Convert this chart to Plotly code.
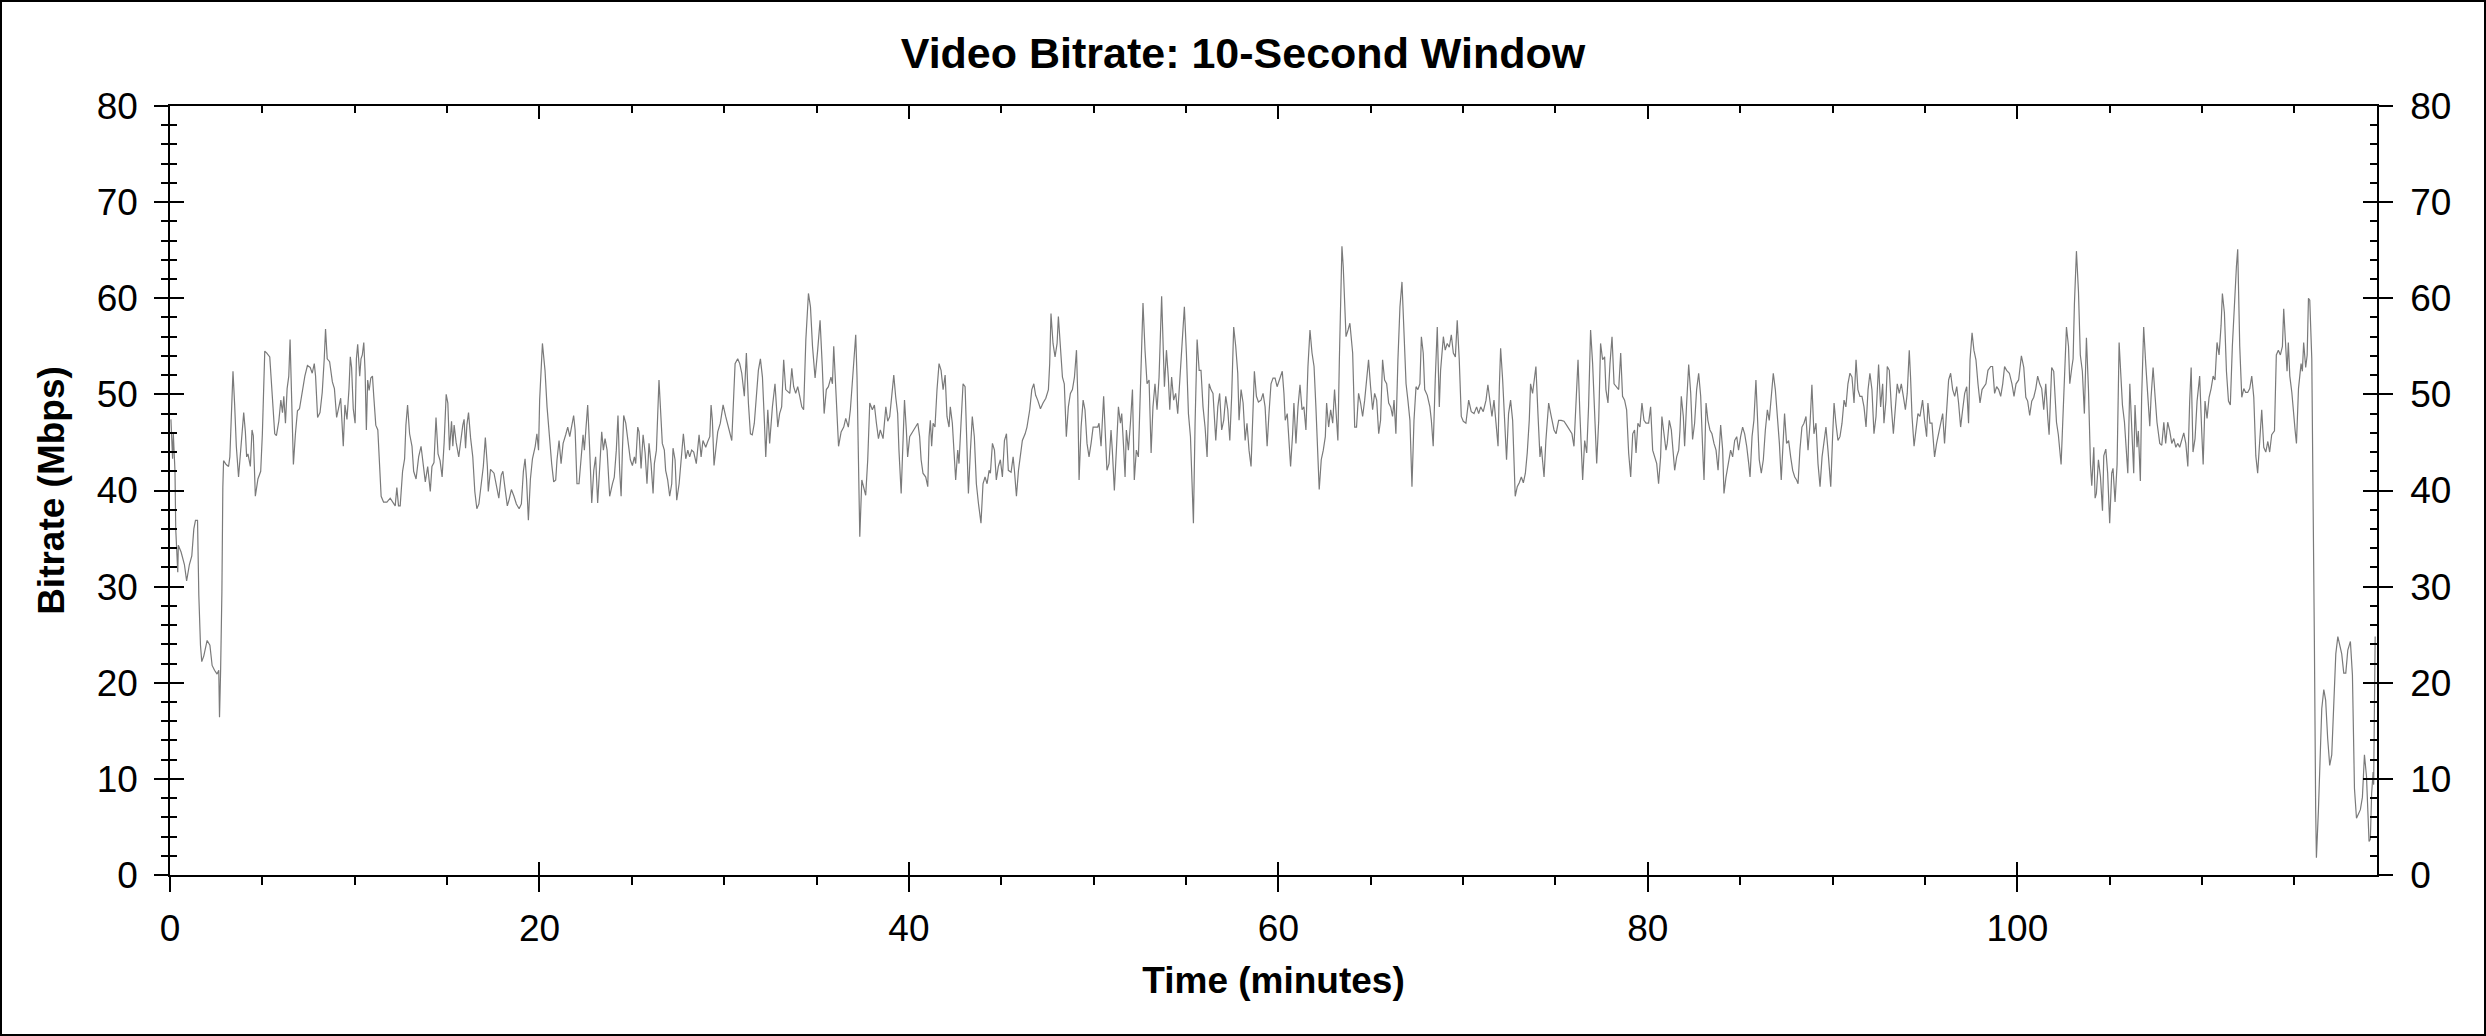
import plotly.graph_objects as go

# --- Data: time in minutes, 10-second window bitrate in Mbps ---
time_min = [
    0.05, 0.14, 0.18, 0.27, 0.31, 0.36, 0.42, 0.45, 0.60, 0.78, 0.90, 1.05, 1.18, 1.29, 1.38, 1.49,
    1.56, 1.65, 1.72, 1.83, 2.01, 2.16, 2.28, 2.41, 2.55, 2.64, 2.68, 2.74, 2.81, 2.86, 2.90, 3.04,
    3.17, 3.24, 3.32, 3.41, 3.50, 3.59, 3.71, 3.86, 3.99, 4.08, 4.15, 4.22, 4.35, 4.44, 4.51, 4.62,
    4.76, 4.91, 5.00, 5.13, 5.24, 5.40, 5.49, 5.58, 5.67, 5.76, 5.89, 6.00, 6.09, 6.16, 6.25, 6.34,
    6.43, 6.50, 6.59, 6.68, 6.79, 6.90, 7.01, 7.16, 7.30, 7.44, 7.59, 7.70, 7.81, 7.88, 7.99, 8.12,
    8.24, 8.35, 8.42, 8.51, 8.64, 8.79, 8.90, 9.02, 9.11, 9.24, 9.38, 9.47, 9.58, 9.69, 9.76, 9.83,
    9.92, 10.02, 10.09, 10.16, 10.27, 10.34, 10.41, 10.49, 10.56, 10.63, 10.70, 10.78, 10.87, 10.96,
    11.03, 11.14, 11.25, 11.34, 11.43, 11.56, 11.74, 11.92, 12.04, 12.19, 12.28, 12.37, 12.46, 12.59,
    12.70, 12.77, 12.86, 12.97, 13.10, 13.19, 13.32, 13.46, 13.59, 13.68, 13.82, 13.95, 14.09, 14.18,
    14.29, 14.40, 14.51, 14.62, 14.73, 14.84, 14.95, 15.04, 15.13, 15.24, 15.31, 15.38, 15.49, 15.63,
    15.74, 15.85, 15.92, 16.00, 16.07, 16.16, 16.27, 16.39, 16.50, 16.61, 16.72, 16.85, 16.96, 17.07,
    17.18, 17.23, 17.35, 17.54, 17.67, 17.80, 17.93, 18.02, 18.13, 18.26, 18.35, 18.48, 18.62, 18.75,
    18.90, 19.02, 19.13, 19.22, 19.30, 19.40, 19.51, 19.62, 19.77, 19.86, 19.95,
    20.01, 20.16, 20.30, 20.41, 20.52, 20.66, 20.77, 20.88, 20.95, 21.06, 21.17, 21.28, 21.42, 21.53,
    21.64, 21.75, 21.85, 21.93, 22.03, 22.14, 22.25, 22.36, 22.43, 22.50, 22.61, 22.72, 22.83, 22.94,
    23.04, 23.15, 23.26, 23.37, 23.46, 23.55, 23.66, 23.80, 23.95, 24.05, 24.16, 24.25, 24.34, 24.42,
    24.49, 24.56, 24.67, 24.81, 24.92, 25.03, 25.14, 25.21, 25.32, 25.39, 25.50, 25.61, 25.72, 25.82,
    25.93, 26.04, 26.15, 26.22, 26.33, 26.47, 26.54, 26.65, 26.76, 26.83, 26.94, 27.05, 27.16, 27.23,
    27.34, 27.43, 27.56, 27.66, 27.79, 27.92, 28.03, 28.13, 28.24, 28.35, 28.49, 28.64, 28.75, 28.85,
    29.00, 29.11, 29.22, 29.29, 29.36, 29.45, 29.54, 29.65, 29.79, 29.94, 30.08, 30.23, 30.41, 30.52,
    30.59, 30.73, 30.84, 30.95, 31.09, 31.20, 31.31, 31.42, 31.52, 31.63, 31.74, 31.85, 31.96, 32.07,
    32.18, 32.25, 32.36, 32.46, 32.61, 32.75, 32.90, 33.00, 33.11, 33.22, 33.33, 33.44, 33.55, 33.66,
    33.76, 33.87, 33.98, 34.09, 34.20, 34.30, 34.42, 34.56, 34.67, 34.78, 34.92, 35.06, 35.19, 35.31,
    35.41, 35.53, 35.64, 35.78, 35.86, 35.93, 36.04, 36.19, 36.33, 36.47, 36.58, 36.72, 36.83, 36.94,
    37.12, 37.19, 37.27, 37.34, 37.45, 37.56, 37.66, 37.77, 37.88, 38.02, 38.13, 38.24, 38.35, 38.45,
    38.60, 38.75, 38.85, 38.96, 39.07, 39.18, 39.28, 39.39, 39.46, 39.58, 39.65, 39.76, 39.86, 39.93,
    40.04, 40.19, 40.33, 40.48, 40.58, 40.66, 40.76, 40.91, 41.02, 41.09, 41.16, 41.23, 41.31, 41.41,
    41.52, 41.63, 41.74, 41.85, 41.96, 42.06, 42.17, 42.24, 42.35, 42.46, 42.53, 42.64, 42.71, 42.82,
    42.93, 43.04, 43.11, 43.22, 43.33, 43.43, 43.54, 43.65, 43.76, 43.90, 44.01, 44.12, 44.23, 44.34,
    44.41, 44.52, 44.63, 44.73, 44.84, 44.95, 45.06, 45.17, 45.28, 45.38, 45.53, 45.64, 45.71, 45.82,
    45.93, 46.03, 46.14, 46.29, 46.39, 46.54, 46.65, 46.76, 46.86, 46.97, 47.12, 47.26, 47.41, 47.55,
    47.62, 47.69, 47.80, 47.91, 48.02, 48.09, 48.20, 48.31, 48.41, 48.52, 48.63, 48.74, 48.85, 48.96,
    49.07, 49.14, 49.21, 49.32, 49.43, 49.53, 49.64, 49.75, 49.86, 49.97, 50.08, 50.22, 50.29, 50.40,
    50.54, 50.62, 50.72, 50.83, 50.94, 51.01, 51.12, 51.23, 51.34, 51.45, 51.52, 51.63, 51.70, 51.77,
    51.88, 51.99, 52.10, 52.20, 52.31, 52.42, 52.53, 52.67, 52.78, 52.89, 53.00, 53.11, 53.21, 53.32,
    53.43, 53.54, 53.68, 53.83, 53.94, 54.04, 54.12, 54.22, 54.33, 54.44, 54.55, 54.69, 54.80, 54.91,
    55.02, 55.13, 55.24, 55.31, 55.40, 55.49, 55.60, 55.71, 55.81, 55.92, 56.03, 56.14, 56.25, 56.35,
    56.46, 56.61, 56.72, 56.82, 56.93, 57.04, 57.15, 57.26, 57.37, 57.47, 57.58, 57.69, 57.80, 57.87,
    57.98, 58.09, 58.20, 58.30, 58.41, 58.52, 58.63, 58.70, 58.81, 58.92, 59.06, 59.17, 59.28, 59.39,
    59.49, 59.60, 59.71, 59.82, 59.93, 60.07,
    60.21, 60.30, 60.37, 60.48, 60.59, 60.66, 60.77, 60.84, 60.95, 61.06, 61.17, 61.28, 61.38, 61.49,
    61.60, 61.71, 61.82, 61.93, 62.03, 62.14, 62.21, 62.32, 62.43, 62.54, 62.61, 62.72, 62.83, 62.94,
    63.04, 63.15, 63.22, 63.30, 63.37, 63.44, 63.51, 63.59, 63.66, 63.77, 63.87, 64.02, 64.13, 64.23,
    64.34, 64.45, 64.56, 64.67, 64.78, 64.88, 64.99, 65.10, 65.21, 65.32, 65.43, 65.53, 65.64, 65.75,
    65.86, 65.97, 66.08, 66.18, 66.26, 66.36, 66.47, 66.58, 66.69, 66.80, 66.91, 67.01, 67.12, 67.23,
    67.34, 67.45, 67.55, 67.66, 67.74, 67.84, 67.92, 68.06, 68.20, 68.28, 68.38, 68.49, 68.60, 68.71,
    68.78, 68.93, 69.03, 69.14, 69.25, 69.36, 69.47, 69.58, 69.68, 69.79, 69.90, 70.01, 70.15, 70.30,
    70.44, 70.59, 70.73, 70.84, 70.95, 71.09, 71.24, 71.34, 71.45, 71.56, 71.67, 71.78, 71.89, 71.96,
    72.03, 72.14, 72.25, 72.35, 72.46, 72.57, 72.68, 72.75, 72.82, 72.93, 73.04, 73.15, 73.26, 73.37,
    73.47, 73.58, 73.65, 73.76, 73.83, 73.94, 74.05, 74.16, 74.23, 74.38, 74.48, 74.63, 74.77, 74.92,
    75.03, 75.17, 75.31, 75.46, 75.60, 75.75, 75.89, 76.00, 76.11, 76.22, 76.32, 76.40, 76.47, 76.58,
    76.69, 76.79, 76.90, 77.01, 77.12, 77.23, 77.34, 77.44, 77.55, 77.66, 77.73, 77.84, 77.95, 78.06,
    78.17, 78.31, 78.42, 78.53, 78.63, 78.74, 78.85, 78.96, 79.07, 79.18, 79.28, 79.36, 79.46, 79.57,
    79.68, 79.79, 79.90, 80.04,
    80.15, 80.26, 80.37, 80.48, 80.58, 80.69, 80.76, 80.87, 80.98, 81.05, 81.16, 81.27, 81.38, 81.45,
    81.56, 81.67, 81.74, 81.81, 81.92, 81.99, 82.10, 82.21, 82.32, 82.42, 82.53, 82.64, 82.75, 82.86,
    82.97, 83.04, 83.15, 83.25, 83.36, 83.47, 83.58, 83.69, 83.80, 83.94, 84.05, 84.12, 84.23, 84.37,
    84.48, 84.59, 84.70, 84.81, 84.91, 85.02, 85.13, 85.24, 85.35, 85.46, 85.53, 85.64, 85.74, 85.85,
    85.92, 86.03, 86.14, 86.25, 86.36, 86.47, 86.57, 86.68, 86.79, 86.90, 87.01, 87.12, 87.22, 87.33,
    87.40, 87.51, 87.62, 87.73, 87.84, 87.95, 88.05, 88.13, 88.23, 88.34, 88.45, 88.56, 88.67, 88.78,
    88.88, 88.99, 89.10, 89.21, 89.32, 89.43, 89.53, 89.64, 89.75, 89.90, 90.00, 90.08, 90.18, 90.29,
    90.40, 90.51, 90.62, 90.72, 90.83, 90.94, 91.05, 91.16, 91.27, 91.37, 91.48, 91.59, 91.70, 91.81,
    91.92, 92.02, 92.13, 92.24, 92.35, 92.42, 92.49, 92.60, 92.71, 92.78, 92.89, 92.96, 93.07, 93.18,
    93.29, 93.39, 93.50, 93.61, 93.72, 93.83, 93.94, 94.04, 94.15, 94.22, 94.30, 94.41, 94.51, 94.62,
    94.73, 94.87, 94.98, 95.09, 95.16, 95.27, 95.38, 95.52, 95.63, 95.74, 95.85, 95.96, 96.06, 96.17,
    96.28, 96.39, 96.50, 96.61, 96.72, 96.82, 96.93, 97.04, 97.15, 97.26, 97.36, 97.44, 97.55, 97.65,
    97.76, 97.87, 97.98, 98.09, 98.20, 98.30, 98.41, 98.56, 98.66, 98.77, 98.88, 98.99, 99.10, 99.21,
    99.31, 99.42, 99.57, 99.71, 99.82, 99.93, 100.07,
    100.22, 100.35, 100.46, 100.56, 100.67, 100.78, 100.89, 101.00, 101.10, 101.21, 101.32, 101.43,
    101.54, 101.65, 101.72, 101.79, 101.86, 101.97, 102.04, 102.12, 102.22, 102.30, 102.37, 102.44,
    102.51, 102.58, 102.66, 102.77, 102.84, 102.95, 103.02, 103.09, 103.20, 103.31, 103.41, 103.52,
    103.63, 103.74, 103.85, 103.96, 104.03, 104.14, 104.21, 104.28, 104.39, 104.50, 104.61, 104.68,
    104.79, 104.89, 105.00, 105.11, 105.18, 105.29, 105.40, 105.51, 105.58, 105.69, 105.80, 105.90,
    105.98, 106.09, 106.19, 106.30, 106.37, 106.48, 106.55, 106.66, 106.73, 106.84, 106.95, 107.06,
    107.17, 107.24, 107.35, 107.46, 107.56, 107.71, 107.82, 107.93, 108.03, 108.14, 108.25, 108.36,
    108.47, 108.58, 108.68, 108.79, 108.90, 109.01, 109.12, 109.23, 109.33, 109.41, 109.51, 109.62,
    109.73, 109.87, 109.98, 110.06, 110.16, 110.27, 110.38, 110.49, 110.60, 110.70, 110.81, 110.92,
    111.03, 111.10, 111.21, 111.32, 111.43, 111.53, 111.64, 111.75, 111.86, 111.93, 112.04, 112.15,
    112.26, 112.36, 112.47, 112.58, 112.69, 112.80, 112.91, 113.01, 113.12, 113.23, 113.34, 113.45,
    113.56, 113.66, 113.77, 113.92, 114.02, 114.13, 114.24, 114.35, 114.42, 114.53, 114.60, 114.67,
    114.75, 114.86, 114.93, 115.04, 115.11, 115.22, 115.29, 115.36, 115.43, 115.50, 115.61, 115.69,
    115.76, 115.83, 115.94, 116.01, 116.08, 116.15, 116.19, 116.30, 116.37, 116.48, 116.59, 116.69,
    116.80, 116.91, 117.02, 117.13, 117.24, 117.35, 117.46, 117.56, 117.67, 117.78, 117.89, 118.03,
    118.14, 118.25, 118.36, 118.47, 118.57, 118.68, 118.79, 118.90, 118.97, 119.04, 119.11, 119.18,
    119.26, 119.29, 119.37,
]

bitrate_mbps = [
    47.4, 43.3, 45.9, 42.0, 36.0, 34.3, 31.5, 34.3, 33.6, 32.3, 30.6, 32.3, 33.2, 36.0, 36.9, 36.9,
    29.1, 23.9, 22.2, 22.8, 24.4, 23.9, 21.8, 21.3, 20.9, 21.3, 16.4, 21.3, 29.5, 40.3, 43.1, 42.7,
    42.5, 43.5, 48.9, 52.4, 48.9, 44.6, 41.4, 45.0, 48.1, 46.1, 43.5, 43.8, 42.5, 46.3, 45.7, 39.4,
    41.2, 42.0, 45.9, 54.5, 54.3, 53.9, 51.5, 48.5, 45.9, 45.7, 47.2, 49.4, 48.1, 49.8, 47.0, 50.6,
    51.9, 55.7, 48.1, 42.7, 45.9, 48.3, 48.5, 50.4, 51.9, 53.0, 52.8, 52.2, 53.2, 51.9, 47.6, 48.1,
    50.2, 53.7, 56.8, 53.7, 53.4, 51.3, 50.6, 47.6, 48.5, 49.6, 44.6, 48.9, 47.4, 50.6, 53.9, 52.8,
    48.5, 47.0, 53.7, 55.2, 51.9, 53.7, 54.1, 55.4, 52.4, 46.3, 51.5, 50.4, 51.7, 51.9,
    49.8, 46.8, 46.3, 42.9, 39.4, 38.8, 38.8, 39.2, 38.8, 38.4, 40.3, 38.4, 38.4, 42.0,
    43.3, 46.8, 48.9, 45.9, 44.6, 42.0, 41.2, 43.5, 44.6, 42.9, 40.9, 42.5, 39.9, 42.5,
    42.9, 47.6, 43.8, 43.1, 41.4, 45.0, 50.0, 49.1, 44.2, 47.2, 44.6, 46.8, 45.0, 43.5,
    45.5, 46.8, 47.4, 44.4, 46.8, 48.1, 45.5, 43.5, 39.9, 38.1, 38.6, 40.7, 42.5, 45.5,
    42.5, 39.9, 42.2, 41.8, 40.3, 39.2, 41.6, 42.0, 40.3, 38.4, 39.0, 40.1, 39.4, 38.6,
    38.1, 38.6, 42.0, 43.3, 41.2, 36.9, 41.2, 43.3, 44.6, 45.9, 44.2,
    49.4, 55.3, 52.5, 48.7, 45.9, 42.8, 40.9, 41.1, 43.2, 45.2, 42.8, 44.9, 45.8, 46.6,
    45.6, 46.6, 47.8, 46.3, 40.7, 40.7, 43.5, 45.8, 44.2, 46.3, 48.9, 44.2, 38.7, 42.1,
    43.5, 38.7, 42.8, 46.1, 44.2, 45.4, 44.2, 39.4, 40.7, 41.4, 44.2, 47.8, 42.1, 39.4,
    44.2, 47.8, 47.0, 44.9, 43.2, 42.6, 43.5, 42.8, 46.6, 46.1, 42.3, 45.8, 43.9, 40.7,
    44.9, 42.8, 39.7, 42.8, 44.2, 51.5, 49.1, 44.9, 44.2, 42.1, 41.1, 39.4, 40.7, 44.4,
    43.2, 39.0, 40.7, 42.8, 45.9, 43.3, 44.2, 43.5, 44.2, 44.0, 42.8, 45.8, 43.5, 45.2,
    44.5, 45.1, 45.6, 48.9, 47.3, 42.6, 44.2, 46.1, 47.0, 48.9, 47.7, 46.6, 45.2, 50.1,
    53.2, 53.7, 53.2, 52.2, 49.8, 54.3, 49.1, 45.9, 45.8, 47.0, 49.8, 52.5, 53.7, 51.8,
    47.0, 43.5, 48.4, 44.9, 48.7, 51.1, 46.6, 48.0, 48.7, 53.6, 50.5, 50.3, 50.1, 52.7,
    50.8, 50.1, 50.8, 49.8, 48.7, 48.4, 55.7, 60.5, 59.1, 55.0, 51.7, 54.6, 57.7, 52.9,
    48.0, 50.5, 50.8, 51.8, 51.1, 55.0, 50.5, 44.6, 46.1, 46.6, 47.5, 46.6, 48.4, 51.1,
    56.2, 51.8, 40.7, 35.2, 41.1, 40.1, 39.5, 43.2, 49.1, 48.4, 48.9, 47.0, 45.4, 46.3,
    45.4, 48.7, 47.2, 47.7, 49.8, 52.0, 49.8, 48.0, 44.2, 39.7, 43.5, 49.4, 46.3, 43.5,
    45.6, 46.1, 46.6, 47.0, 45.6, 43.2, 41.8, 41.4, 40.4, 45.6, 47.3, 44.6, 47.0, 46.6,
    50.5, 53.2, 52.5, 50.5, 52.0, 47.7, 46.6, 48.7, 47.0, 43.2, 41.1, 44.2, 42.8, 47.0,
    51.1, 50.8, 47.0, 39.7, 44.2, 47.7, 45.6, 40.7, 38.7, 36.6, 40.7, 41.4, 40.7, 42.1,
    41.8, 44.9, 44.2, 41.1, 42.5, 43.2, 41.4, 45.2, 45.9, 42.1, 41.9, 43.5, 42.1, 39.4,
    42.1, 43.5, 45.2, 45.9, 46.6, 48.4, 50.5, 51.1, 49.9, 49.4, 48.5, 49.1, 49.6, 50.5,
    53.2, 58.4, 55.3, 53.9, 55.3, 58.1, 55.0, 51.8, 51.1, 45.6, 48.7, 50.1, 50.5, 51.8,
    54.6, 49.8, 41.1, 46.6, 49.4, 48.4, 44.9, 43.5, 44.9, 46.6, 46.6, 46.6, 47.0, 44.6,
    49.8, 45.6, 42.1, 42.8, 46.3, 44.2, 40.0, 44.2, 48.7, 47.0, 48.0, 44.2, 41.4, 46.3,
    44.2, 47.0, 50.5, 41.1, 44.2, 43.5, 51.1, 59.5, 54.6, 51.1, 51.5, 43.9, 48.7, 51.1,
    48.4, 51.8, 60.2, 50.8, 54.6, 51.8, 48.4, 51.8, 49.4, 50.1, 48.0, 52.5, 55.3, 59.1,
    54.3, 48.0, 45.6, 40.7, 36.6, 47.0, 55.7, 52.5, 52.5, 48.7, 46.6, 43.5, 51.1, 50.5,
    50.1, 45.2, 48.7, 50.1, 46.3, 47.3, 49.8, 48.4, 45.2, 49.8, 57.0, 55.0, 52.2, 47.3,
    50.5, 49.1, 45.2, 47.0, 44.2, 42.5, 49.1, 52.4, 49.8, 49.2, 49.4, 50.1, 48.7, 44.6,
    48.0, 51.1, 51.7, 51.7, 50.8, 51.7,
    52.4, 50.1, 47.3, 48.0, 43.9, 42.5, 45.9, 49.1, 44.9, 48.7, 51.0, 48.4, 48.7, 46.3,
    52.9, 56.7, 54.3, 52.9, 48.7, 42.8, 40.1, 43.2, 44.2, 45.6, 49.1, 46.6, 48.4, 47.0,
    50.5, 47.3, 45.2, 53.6, 59.5, 65.4, 63.3, 59.1, 56.0, 56.7, 57.4, 54.3, 46.6, 46.6,
    50.1, 49.1, 47.7, 49.4, 51.8, 53.6, 50.8, 48.4, 50.1, 49.4, 45.9, 47.3, 53.6, 51.5,
    51.1, 49.1, 48.7, 47.7, 49.4, 45.9, 53.6, 59.1, 61.7, 55.7, 51.1, 49.4, 47.3, 40.4,
    47.3, 50.8, 50.5, 51.1, 56.0, 54.3, 50.5, 49.9, 48.7, 47.3, 44.6, 51.5, 57.0, 48.7,
    52.5, 56.0, 54.6, 55.3, 54.9, 56.2, 54.3, 53.9, 57.7, 53.6, 47.7, 47.2, 47.0, 49.4,
    48.2, 48.0, 48.7, 48.0, 48.7, 48.2, 49.4, 51.0, 49.4, 47.7, 49.4, 46.6, 44.6, 50.8,
    54.8, 51.5, 47.3, 43.2, 48.0, 49.4, 47.3, 41.8, 39.4, 40.4, 40.8, 41.4, 40.8, 41.8,
    43.9, 47.3, 51.1, 50.1, 51.5, 52.9, 48.0, 43.5, 44.6, 41.4, 45.2, 49.1, 47.7, 46.3,
    45.9, 47.3, 47.3, 47.2, 46.8, 46.3, 45.9, 44.6, 49.8, 53.6, 48.0, 43.2, 41.1, 45.2,
    43.9, 48.7, 56.7, 53.2, 48.0, 42.8, 47.3, 55.3, 53.6, 53.9, 50.5, 49.1, 53.2, 56.0,
    51.1, 50.8, 50.5, 54.3, 49.8, 49.4, 48.4, 43.9, 41.4, 45.9, 46.3, 43.9, 47.0, 46.6,
    49.1, 47.3, 47.0, 47.0,
    48.7, 44.2, 43.5, 42.8, 40.7, 43.5, 47.7, 45.6, 44.2, 44.9, 47.3, 46.3, 43.2, 42.1,
    43.5, 44.2, 46.3, 49.8, 47.7, 44.6, 49.1, 53.1, 50.1, 45.3, 47.0, 50.5, 52.2, 49.8,
    44.2, 41.1, 49.1, 47.3, 46.3, 45.9, 44.9, 44.2, 42.1, 46.8, 44.2, 39.7, 41.4, 42.8,
    44.2, 43.5, 45.2, 45.6, 44.2, 45.6, 46.6, 45.9, 44.6, 42.8, 41.4, 45.6, 47.3, 51.5,
    48.4, 43.2, 41.8, 43.2, 46.3, 48.4, 47.3, 50.1, 52.2, 50.5, 47.7, 44.9, 41.1, 45.6,
    48.0, 44.9, 45.2, 43.5, 42.1, 41.4, 41.1, 40.7, 44.2, 46.6, 47.0, 47.7, 44.2, 47.0,
    51.0, 45.9, 47.0, 42.8, 40.4, 43.5, 45.2, 46.6, 44.2, 40.4, 45.6, 49.1, 47.0, 45.2,
    45.6, 47.0, 49.4, 48.7, 51.1, 52.2, 51.8, 49.1, 53.6, 50.5, 49.8, 49.8, 48.7, 46.6,
    50.5, 52.2, 50.5, 45.9, 47.7, 51.5, 53.1, 48.7, 51.1, 47.0, 49.4, 52.9, 52.5, 48.7,
    45.9, 48.4, 51.1, 50.1, 51.1, 49.8, 48.4, 50.1, 54.6, 51.8, 47.7, 44.6, 46.3, 48.0,
    47.7, 49.4, 47.3, 45.6, 49.1, 47.0, 47.0, 43.5, 44.9, 45.9, 47.0, 48.0, 44.9, 48.4,
    51.5, 52.2, 50.5, 49.8, 50.8, 49.1, 46.6, 48.4, 50.1, 50.8, 47.0, 53.6, 56.4, 54.6,
    53.6, 51.1, 49.1, 50.5, 50.8, 51.1, 52.5, 52.9, 52.9, 50.1, 50.8, 50.5, 49.8, 51.1,
    52.9, 52.5, 52.2, 51.1, 49.8, 51.1, 51.5,
    54.0, 52.8, 49.7, 49.3, 47.8, 49.3, 49.7, 50.6, 51.9, 51.1, 50.6, 48.4,
    51.1, 47.5, 45.8, 49.3, 52.8, 52.4, 49.3, 47.1, 45.8, 44.5, 42.7, 46.2,
    49.7, 53.2, 57.0, 55.0, 51.1, 52.8, 53.7, 59.4, 64.9, 60.7, 54.1, 52.4,
    48.0, 55.9, 50.6, 42.7, 40.5, 44.5, 39.2, 39.7, 43.2, 41.4, 37.9, 43.6,
    44.3, 41.8, 36.6, 41.8, 42.3, 38.8, 42.7, 55.4, 53.2, 48.9, 47.1, 43.6,
    41.8, 51.1, 46.2, 41.8, 48.9, 44.5, 46.2, 41.0, 49.7, 57.0, 53.2, 49.7,
    46.7, 49.7, 52.8, 49.7, 47.1, 44.9, 44.7, 47.1, 44.9, 47.1, 46.2, 44.9,
    45.4, 44.5, 44.9, 44.5, 45.4, 46.0, 44.9, 42.5, 49.3, 52.8, 44.0, 45.4,
    49.3, 51.9, 46.2, 42.7, 49.3, 47.5, 49.7, 50.6, 51.9, 51.5, 55.4, 54.1,
    57.2, 60.5, 58.5, 52.4, 49.3, 48.9, 55.0, 59.8, 63.3, 65.1, 55.0, 49.7,
    50.6, 50.2, 50.2, 50.6, 51.9, 49.7, 43.6, 41.8, 45.4, 48.4, 44.5, 44.0,
    45.1, 44.0, 45.8, 46.2, 54.1, 54.6, 54.1, 55.0, 58.9, 55.0, 52.4, 55.4,
    51.9, 50.2, 48.4, 46.2, 44.9, 50.6, 51.9, 53.2, 52.4, 55.4, 52.8, 54.1,
    60.0, 59.8, 53.7, 41.8, 24.3, 6.8, 1.8, 6.8, 11.6, 17.3, 19.3, 18.2,
    14.2, 11.4, 12.5, 17.3, 23.0, 24.8, 23.9, 23.0, 21.0, 21.0, 23.4, 24.3,
    20.8, 9.0, 5.9, 6.4, 6.8, 8.1, 12.5, 10.3, 6.8, 3.5, 3.7, 8.5,
    10.7, 9.4, 24.8,
]

x_ticks = [0, 20, 40, 60, 80, 100]
y_ticks = [0, 10, 20, 30, 40, 50, 60, 70, 80]

X_RANGE = [0, 119.47]
Y_RANGE = [0, 80]

# --- Page geometry (pixels) ---
W, H = 2486, 1036
M_L, M_R, M_T, M_B = 170, 109, 106, 161
PW, PH = W - M_L - M_R, H - M_T - M_B

FONT = "Arial, Liberation Sans, sans-serif"
TICK_FONT = dict(family=FONT, size=37, color="black")
LW = 1.5

fig = go.Figure()

fig.add_trace(go.Scatter(
    x=time_min, y=bitrate_mbps,
    mode="lines", name="Bitrate",
    line=dict(color="#7a7a7a", width=1.2),
    showlegend=False,
))

# empty traces so the overlay axes (used for crossing / inner ticks) get drawn
for xa, ya in [("x2", "y"), ("x3", "y"), ("x", "y2"), ("x", "y3"), ("x", "y4")]:
    fig.add_trace(go.Scatter(x=[], y=[], xaxis=xa, yaxis=ya,
                             showlegend=False, hoverinfo="skip"))

common = dict(showgrid=False, zeroline=False, tickcolor="black", tickwidth=LW,
              linecolor="black", linewidth=LW)
no_line = {k: v for k, v in common.items() if k != "linewidth"}

# bottom axis: labels, outer major + minor ticks
fig.update_layout(xaxis=dict(
    range=X_RANGE, tickvals=x_ticks, ticks="outside", ticklen=15,
    showline=True, tickfont=TICK_FONT, ticklabelstandoff=5,
    minor=dict(ticks="outside", ticklen=8, dtick=5, tick0=0,
               tickcolor="black", tickwidth=LW, showgrid=False),
    title=dict(text="Time (minutes)", standoff=19,
               font=dict(family=FONT, size=37, color="black", weight="bold")),
    **common,
))
# bottom axis: inner half of the major ticks
fig.update_layout(xaxis2=dict(
    range=X_RANGE, tickvals=x_ticks, ticks="inside", ticklen=13,
    overlaying="x", side="bottom", anchor="y", showline=False,
    showticklabels=False, **no_line,
))
# top axis: inner ticks only
fig.update_layout(xaxis3=dict(
    range=X_RANGE, tickvals=x_ticks, ticks="inside", ticklen=13,
    overlaying="x", side="top", anchor="y", showline=True,
    showticklabels=False,
    minor=dict(ticks="inside", ticklen=7, dtick=5, tick0=0,
               tickcolor="black", tickwidth=LW, showgrid=False),
    **common,
))
# left axis: labels, outer major + minor ticks
fig.update_layout(yaxis=dict(
    range=Y_RANGE, tickvals=y_ticks, ticks="outside", ticklen=14,
    showline=True, tickfont=TICK_FONT, ticklabelstandoff=9,
    minor=dict(ticks="outside", ticklen=7, dtick=2, tick0=0,
               tickcolor="black", tickwidth=LW, showgrid=False),
    title=dict(text="Bitrate (Mbps)", standoff=21,
               font=dict(family=FONT, size=37, color="black", weight="bold")),
    **common,
))
# left axis: inner halves
fig.update_layout(yaxis2=dict(
    range=Y_RANGE, tickvals=y_ticks, ticks="inside", ticklen=14,
    overlaying="y", side="left", anchor="x", showline=False,
    showticklabels=False,
    minor=dict(ticks="inside", ticklen=7, dtick=2, tick0=0,
               tickcolor="black", tickwidth=LW, showgrid=False),
    **no_line,
))
# right axis: labels + outer major ticks
fig.update_layout(yaxis3=dict(
    range=Y_RANGE, tickvals=y_ticks, ticks="outside", ticklen=14,
    overlaying="y", side="right", anchor="x", showline=True,
    tickfont=TICK_FONT, ticklabelstandoff=10,
    **common,
))
# right axis: inner major + minor ticks
fig.update_layout(yaxis4=dict(
    range=Y_RANGE, tickvals=y_ticks, ticks="inside", ticklen=14,
    overlaying="y", side="right", anchor="x", showline=False,
    showticklabels=False,
    minor=dict(ticks="inside", ticklen=7, dtick=2, tick0=0,
               tickcolor="black", tickwidth=LW, showgrid=False),
    **no_line,
))

# frame around the whole picture
fig.add_shape(
    type="rect", xref="paper", yref="paper",
    x0=-(M_L - 1) / PW, x1=1 + (M_R - 1) / PW,
    y0=-(M_B - 1) / PH, y1=1 + (M_T - 1) / PH,
    line=dict(color="black", width=2), layer="above",
)

fig.update_layout(
    width=W, height=H,
    margin=dict(l=M_L, r=M_R, t=M_T, b=M_B, autoexpand=False),
    paper_bgcolor="white", plot_bgcolor="white",
    title=dict(
        text="Video Bitrate: 10-Second Window",
        x=0.5, xref="container", xanchor="center",
        y=1 - 53 / H, yref="container", yanchor="middle",
        font=dict(family=FONT, size=43, color="black", weight="bold"),
    ),
    font=dict(family=FONT, color="black"),
    showlegend=False,
)

fig.write_html(
    "out.html",
    config={"displayModeBar": False},
    post_script="document.body.style.margin='0';document.body.style.overflow='hidden';",
)
